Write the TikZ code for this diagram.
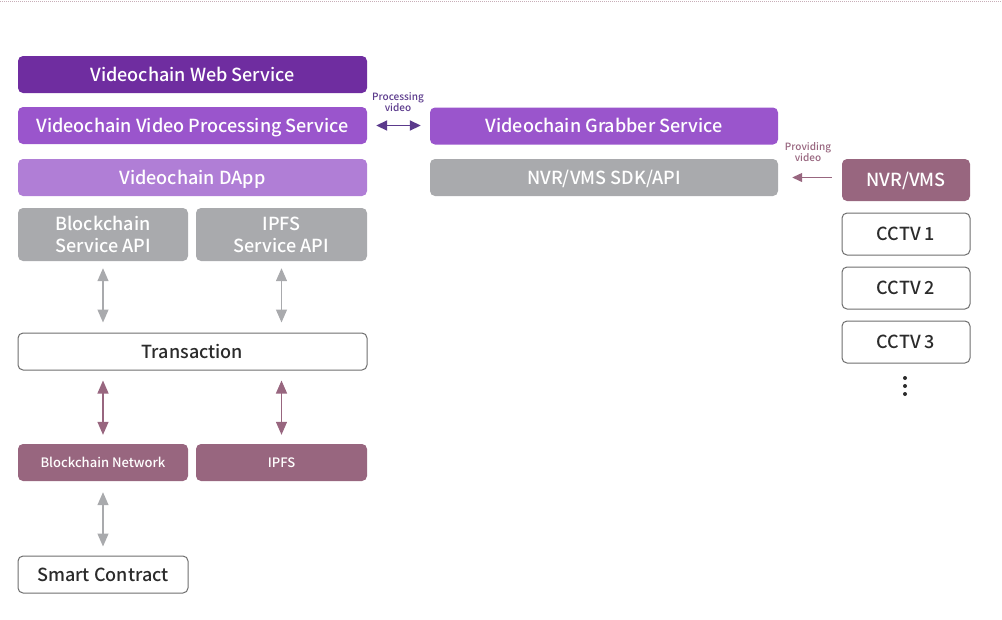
\documentclass[tikz,border=0pt]{standalone}
\usepackage{fontspec}
\setmainfont{Noto Sans CJK KR}[UprightFont={* Medium},BoldFont={* Bold}]
\usetikzlibrary{arrows.meta}
\definecolor{webc}{HTML}{6F2DA0}
\definecolor{procc}{HTML}{9A55CC}
\definecolor{dappc}{HTML}{B07ED6}
\definecolor{grayc}{HTML}{A9AAAD}
\definecolor{mauvec}{HTML}{98667F}
\definecolor{darkarrow}{HTML}{5B3A8C}
\definecolor{txtc}{HTML}{2B2B2B}
\definecolor{bordc}{HTML}{6E6E6E}
\definecolor{topline}{HTML}{C8AEB8}
\begin{document}
\begin{tikzpicture}[x=1pt,y=-1pt,
  basebox/.style={rounded corners=5pt,inner sep=0pt,font=\fontsize{18}{22}\selectfont,align=center,text=white},
  box/.style={basebox,text height=13pt,text depth=0pt},
  smallbox/.style={basebox,font=\fontsize{13}{15}\selectfont,text height=9.5pt,text depth=0pt},
  wbox/.style={box,draw=bordc,line width=1pt,fill=white,text=txtc},
  garrow/.style={draw=grayc,line width=1.3pt,{Triangle[width=11pt,length=13pt]}-{Triangle[width=11pt,length=13pt]}},
  marrow/.style={draw=mauvec,line width=1.3pt,{Triangle[width=11pt,length=13pt]}-{Triangle[width=11pt,length=13pt]}},
  lbl/.style={font=\fontsize{10}{11.5}\selectfont,align=center,inner sep=0pt}
]
\useasboundingbox (0,0) rectangle (1002,619);
\draw[topline,line width=0.8pt,dash pattern=on 1pt off 1pt] (0,1) -- (1002,1);
% boxes
\node[box,fill=webc,minimum width=349pt,minimum height=37pt] (web) at (192.5,74.5) {Videochain Web Service};
\node[box,fill=procc,minimum width=349pt,minimum height=37pt] (proc) at (192.5,125.5) {Videochain Video Processing Service};
\node[box,fill=dappc,minimum width=349pt,minimum height=37pt] (dapp) at (192.5,177.5) {Videochain DApp};
\node[basebox,fill=grayc,minimum width=170pt,minimum height=53pt] (bapi) at (103,234.5) {Blockchain\\Service API};
\node[basebox,fill=grayc,minimum width=171pt,minimum height=53pt] (iapi) at (281.5,234.5) {IPFS\\Service API};
\node[wbox,minimum width=349pt,minimum height=37pt] (tx) at (192.5,351.5) {Transaction};
\node[smallbox,fill=mauvec,minimum width=170pt,minimum height=37pt] (bnet) at (103,462.5) {Blockchain Network};
\node[smallbox,fill=mauvec,minimum width=171pt,minimum height=37pt] (ipfs) at (281.5,462.5) {IPFS};
\node[wbox,minimum width=170pt,minimum height=37pt] (sc) at (103,574.5) {Smart Contract};
\node[box,fill=procc,minimum width=348pt,minimum height=37pt] (grab) at (604,126) {Videochain Grabber Service};
\node[box,fill=grayc,minimum width=348pt,minimum height=37pt] (sdk) at (604,177.5) {NVR/VMS SDK/API};
\node[box,fill=mauvec,minimum width=128pt,minimum height=42pt] (nvr) at (906,180) {NVR/VMS};
\node[wbox,minimum width=128pt,minimum height=42pt] (c1) at (906,234) {CCTV 1};
\node[wbox,minimum width=128pt,minimum height=42pt] (c2) at (906,288) {CCTV 2};
\node[wbox,minimum width=128pt,minimum height=42pt] (c3) at (906,342) {CCTV 3};
% dots
\foreach \yy in {378,386,394} \fill[txtc] (905,\yy) circle (2pt);
% arrows
\draw[garrow] ([yshift=-7pt]bapi.south) -- ([yshift=10pt]tx.north -| bapi.south);
\draw[garrow] ([yshift=-7pt]iapi.south) -- ([yshift=10pt]tx.north -| iapi.south);
\draw[marrow] ([yshift=-10pt]tx.south -| bnet.north) -- ([yshift=9pt]bnet.north);
\draw[marrow] ([yshift=-10pt]tx.south -| ipfs.north) -- ([yshift=9pt]ipfs.north);
\draw[garrow] ([yshift=-11pt]bnet.south) -- ([yshift=9pt]sc.north);
\draw[draw=darkarrow,line width=1.8pt,{Triangle[width=10pt,length=11pt]}-{Triangle[width=10pt,length=11pt]}] ([xshift=9pt]proc.east) -- ([xshift=-9pt]grab.west |- proc.east);
\node[lbl,text=darkarrow] (plbl) at (398,102) {Processing\\video};
\draw[draw=mauvec,line width=1.2pt,-{Triangle[width=9pt,length=10pt]}] ([xshift=-10pt]nvr.west |- sdk.east) -- ([xshift=14pt]sdk.east);
\node[lbl,text=mauvec] (vlbl) at (808,152) {Providing\\video};
\end{tikzpicture}
\end{document}
